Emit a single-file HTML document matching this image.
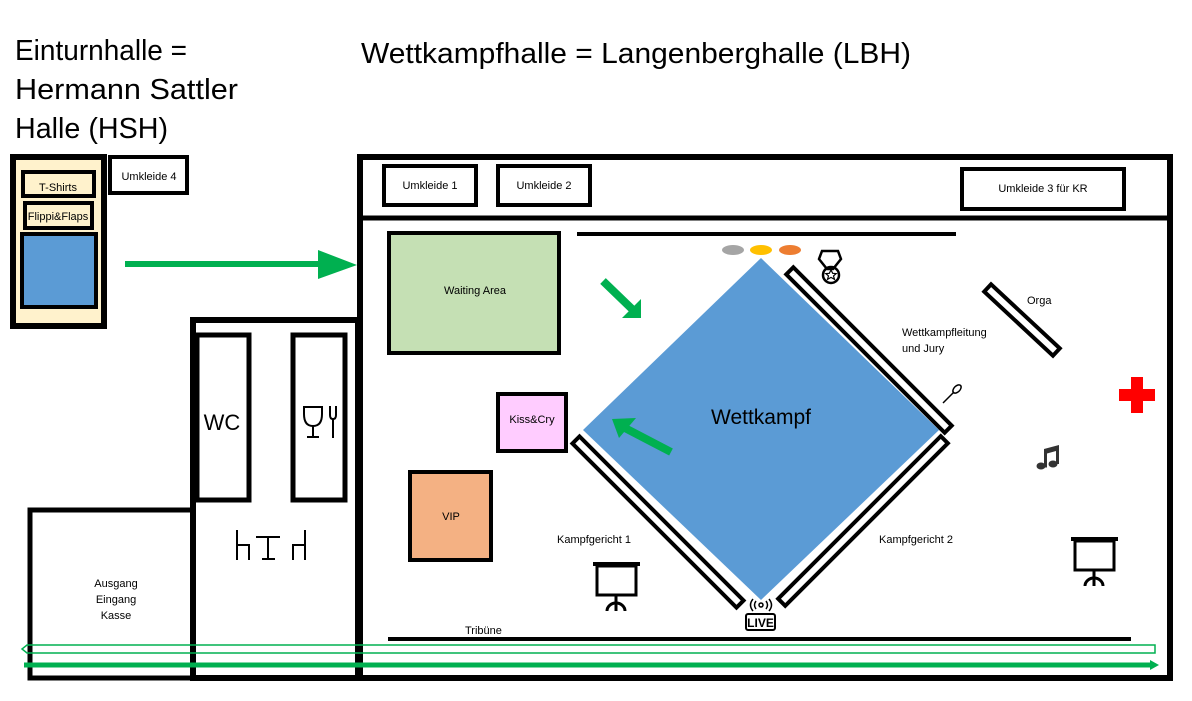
<!DOCTYPE html>
<html><head><meta charset="utf-8"><style>
html,body{margin:0;padding:0;background:#fff;}
svg{display:block;}
text{font-family:"Liberation Sans",sans-serif;fill:#000;}
</style></head><body>
<svg width="1192" height="701" viewBox="0 0 1192 701" xmlns="http://www.w3.org/2000/svg">
<text x="15" y="60" font-size="29" textLength="172" lengthAdjust="spacingAndGlyphs">Einturnhalle =</text>
<text x="15" y="99" font-size="29" textLength="223" lengthAdjust="spacingAndGlyphs">Hermann Sattler</text>
<text x="15" y="138" font-size="29" textLength="153" lengthAdjust="spacingAndGlyphs">Halle (HSH)</text>
<text x="361" y="63" font-size="29" textLength="550" lengthAdjust="spacingAndGlyphs">Wettkampfhalle = Langenberghalle (LBH)</text>

<!-- HSH -->
<rect x="13" y="157" width="91" height="169" fill="#fff2cc" stroke="#000" stroke-width="6"/>
<rect x="23" y="172" width="71" height="24" fill="#fff2cc" stroke="#000" stroke-width="4"/>
<text x="58" y="191" font-size="11" text-anchor="middle">T-Shirts</text>
<rect x="25" y="203" width="67" height="25" fill="#fff2cc" stroke="#000" stroke-width="4"/>
<text x="58" y="220" font-size="11" text-anchor="middle">Flippi&amp;Flaps</text>
<rect x="22" y="234" width="74" height="73" fill="#5b9bd5" stroke="#000" stroke-width="4"/>
<rect x="110" y="157" width="77" height="36" fill="#fff" stroke="#000" stroke-width="4"/>
<text x="149" y="180" font-size="11" text-anchor="middle">Umkleide 4</text>

<!-- green arrow -->
<line x1="125" y1="264" x2="320" y2="264" stroke="#00b050" stroke-width="6"/>
<polygon points="318,250 357,265 318,279" fill="#00b050"/>

<!-- middle building -->
<rect x="193" y="320" width="165" height="358" fill="none" stroke="#000" stroke-width="6"/>
<rect x="197" y="335" width="52" height="165" fill="#fff" stroke="#000" stroke-width="5"/>
<text x="222" y="430" font-size="22" text-anchor="middle">WC</text>
<rect x="293" y="335" width="52" height="165" fill="#fff" stroke="#000" stroke-width="5"/>
<g stroke="#000" stroke-width="2" fill="none">
<path d="M304,407 h18 v7 q0,12 -9,12 q-9,0 -9,-12 z"/><line x1="313" y1="426" x2="313" y2="437"/><line x1="307" y1="437" x2="319" y2="437"/>
<path d="M330,406 v9 q0,4 3,4 q3,0 3,-4 v-9"/><line x1="333" y1="419" x2="333" y2="438"/>
<path d="M237,530 v30 M237,545 h12 v15 M256,537 h24 M268,537 v22 M262,559 h13 M305,530 v30 M305,545 h-12 v15"/>
</g>
<rect x="30" y="510" width="163" height="168" fill="none" stroke="#000" stroke-width="5"/>
<text x="116" y="587" font-size="11" text-anchor="middle">Ausgang</text>
<text x="116" y="603" font-size="11" text-anchor="middle">Eingang</text>
<text x="116" y="619" font-size="11" text-anchor="middle">Kasse</text>

<!-- LBH -->
<rect x="360" y="157" width="810" height="521" fill="none" stroke="#000" stroke-width="6"/>
<line x1="360" y1="218" x2="1170" y2="218" stroke="#000" stroke-width="5"/>
<rect x="384" y="166" width="92" height="39" fill="#fff" stroke="#000" stroke-width="4"/>
<text x="430" y="189" font-size="11" text-anchor="middle">Umkleide 1</text>
<rect x="498" y="166" width="92" height="39" fill="#fff" stroke="#000" stroke-width="4"/>
<text x="544" y="189" font-size="11" text-anchor="middle">Umkleide 2</text>
<rect x="962" y="169" width="162" height="40" fill="#fff" stroke="#000" stroke-width="4"/>
<text x="1043" y="192" font-size="11" text-anchor="middle">Umkleide 3 für KR</text>

<rect x="389" y="233" width="170" height="120" fill="#c5e0b4" stroke="#000" stroke-width="4"/>
<text x="475" y="294" font-size="11" text-anchor="middle">Waiting Area</text>
<line x1="577" y1="234" x2="956" y2="234" stroke="#000" stroke-width="4"/>

<ellipse cx="733" cy="250" rx="11" ry="5" fill="#a5a5a5"/>
<ellipse cx="761" cy="250" rx="11" ry="5" fill="#ffc000"/>
<ellipse cx="790" cy="250" rx="11" ry="5" fill="#ed7d31"/>

<polygon points="761,258 939,430 761,600 583,430" fill="#5b9bd5"/>
<text x="761" y="424" font-size="21" text-anchor="middle">Wettkampf</text>

<g fill="#fff" stroke="#000" stroke-width="4">
<rect x="-112" y="-5" width="224" height="10" transform="translate(869,350) rotate(45)"/>
<rect x="-115" y="-5" width="230" height="10" transform="translate(863,521) rotate(-45)"/>
<rect x="-116" y="-5" width="232" height="10" transform="translate(658,522) rotate(45)"/>
<rect x="-47" y="-5" width="94" height="10" transform="translate(1022,320) rotate(43)"/>
</g>

<!-- green diag arrows -->
<line x1="603" y1="281" x2="632" y2="309" stroke="#00b050" stroke-width="8"/>
<polygon points="641,318 622,318 641,299" fill="#00b050"/>
<line x1="671" y1="452" x2="623" y2="427" stroke="#00b050" stroke-width="8"/>
<polygon points="612,419 636,418 619,438" fill="#00b050"/>

<rect x="498" y="394" width="68" height="57" fill="#ffccff" stroke="#000" stroke-width="4"/>
<text x="532" y="423" font-size="11" text-anchor="middle">Kiss&amp;Cry</text>
<rect x="410" y="472" width="81" height="88" fill="#f4b183" stroke="#000" stroke-width="4"/>
<text x="451" y="520" font-size="11" text-anchor="middle">VIP</text>

<text x="902" y="336" font-size="11">Wettkampfleitung</text>
<text x="902" y="352" font-size="11">und Jury</text>
<text x="1027" y="304" font-size="11">Orga</text>
<text x="557" y="543" font-size="11">Kampfgericht 1</text>
<text x="879" y="543" font-size="11">Kampfgericht 2</text>
<text x="465" y="634" font-size="11">Tribüne</text>

<!-- medal -->
<g stroke="#000" stroke-width="2.5" fill="none">
<path d="M822,251 h16 l3,8 l-8,10 h-6 l-8,-10 z"/>
<circle cx="831" cy="275" r="8"/>
<path d="M831,270 l1.7,3.3 3.5,0.3 -2.7,2.3 1,3.5 -3.5,-2 -3.5,2 1,-3.5 -2.7,-2.3 3.5,-0.3 z" stroke-width="1.2"/>
</g>
<!-- mic -->
<g stroke="#000" stroke-width="1.5" fill="none">
<ellipse cx="957" cy="389" rx="3" ry="5" transform="rotate(45 957 389)"/>
<line x1="954" y1="392" x2="943" y2="403"/>
</g>
<!-- live -->
<g stroke="#000" fill="none" stroke-width="1.5">
<circle cx="761" cy="605" r="2"/>
<path d="M756,601 q-3,4 0,8 M766,601 q3,4 0,8 M753,599 q-5,6 0,12 M769,599 q5,6 0,12"/>
<rect x="746" y="614" width="29" height="16" rx="2" stroke-width="2"/>
</g>
<text x="760.5" y="627" font-size="12" font-weight="bold" text-anchor="middle">LIVE</text>

<!-- red cross -->
<path d="M1131,377 h12 v12 h12 v12 h-12 v12 h-12 v-12 h-12 v-12 h12 z" fill="#ff0000"/>
<!-- music -->
<g fill="#333">
<path d="M1044,449 l15,-4 v19 h-3 v-13 l-9,2.5 v14 h-3 z"/>
<ellipse cx="1041" cy="466" rx="4.5" ry="3.5"/>
<ellipse cx="1053" cy="464" rx="4.5" ry="3.5"/>
</g>

<!-- screens -->
<g stroke="#000" fill="none">
<line x1="593" y1="564" x2="640" y2="564" stroke-width="4"/>
<rect x="597" y="566" width="39" height="29" stroke-width="3"/>
<line x1="616" y1="595" x2="616" y2="611" stroke-width="3"/>
<path d="M607,611 a9,8 0 0 1 18,0" stroke-width="3"/>
<line x1="1071" y1="539" x2="1118" y2="539" stroke-width="4"/>
<rect x="1075" y="541" width="39" height="29" stroke-width="3"/>
<line x1="1094" y1="570" x2="1094" y2="586" stroke-width="3"/>
<path d="M1085,586 a9,8 0 0 1 18,0" stroke-width="3"/>
</g>

<line x1="388" y1="639" x2="1131" y2="639" stroke="#000" stroke-width="4"/>

<!-- bottom arrows -->
<path d="M1155,645 H27 L22,649 L27,653 H1155 Z" fill="none" stroke="#00b050" stroke-width="1.5"/>
<line x1="24" y1="665" x2="1152" y2="665" stroke="#00b050" stroke-width="5"/>
<polygon points="1150,660 1159,665 1150,670" fill="#00b050"/>
</svg>
</body></html>
